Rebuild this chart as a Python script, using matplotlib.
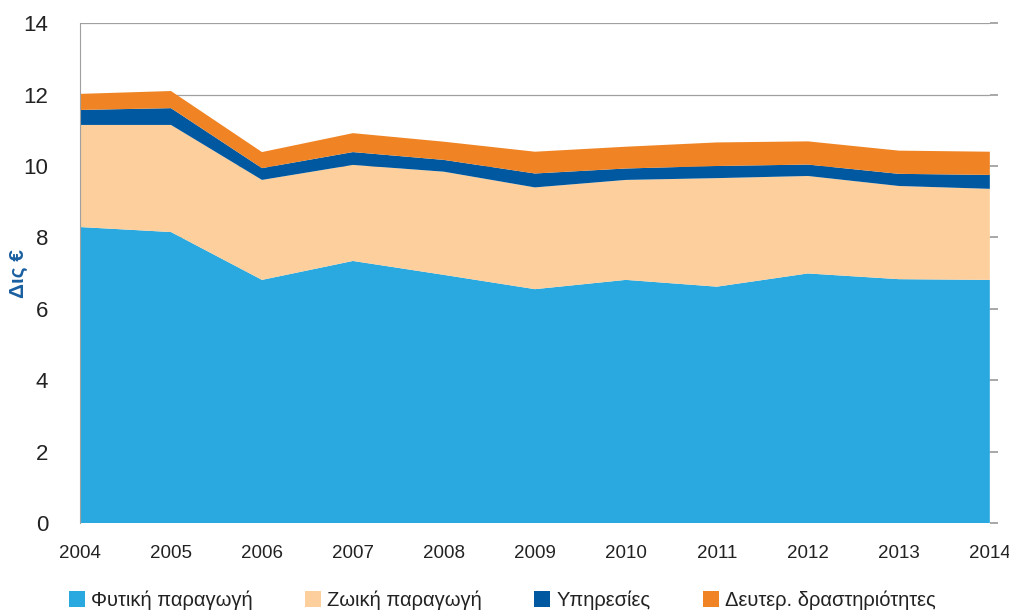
import numpy as np
import matplotlib.pyplot as plt
from matplotlib.patches import Patch

# Δεδομένα (δις €), διαβασμένα από το γράφημα
years = [2004, 2005, 2006, 2007, 2008, 2009, 2010, 2011, 2012, 2013, 2014]
fytiki = [8.29, 8.15, 6.81, 7.34, 6.95, 6.55, 6.81, 6.62, 6.99, 6.83, 6.81]
zoiki = [2.86, 3.00, 2.80, 2.69, 2.89, 2.85, 2.80, 3.04, 2.73, 2.61, 2.55]
ypiresies = [0.42, 0.47, 0.33, 0.36, 0.33, 0.39, 0.32, 0.34, 0.32, 0.34, 0.39]
deuter = [0.45, 0.48, 0.45, 0.53, 0.51, 0.61, 0.61, 0.66, 0.65, 0.65, 0.65]

labels = ["Φυτική παραγωγή", "Ζωική παραγωγή", "Υπηρεσίες", "Δευτερ. δραστηριότητες"]
colors = ["#29a9e0", "#fccf9c", "#0059a0", "#f08424"]
yticks = [0, 2, 4, 6, 8, 10, 12, 14]

plt.rcParams["font.family"] = ["Liberation Sans", "DejaVu Sans"]

fig = plt.figure(figsize=(10.09, 6.10), dpi=100)
ax = fig.add_axes([0.0793, 0.1426, 0.9017, 0.8194])

ax.stackplot(years, fytiki, zoiki, ypiresies, deuter, colors=colors,
             linewidth=0, zorder=2)

ax.set_xlim(years[0], years[-1])
ax.set_ylim(0, 14)
ax.set_yticks(yticks)
ax.set_xticks(years)
ax.grid(axis="y", color="#a0a0a0", linewidth=0.9, zorder=0)

for side in ["top", "right", "bottom"]:
    ax.spines[side].set_visible(False)
ax.spines["left"].set_color("#a0a0a0")
# μικρά σημάδια δεξιά, όπως στο πρωτότυπο
ax.tick_params(axis="y", left=False, right=True, length=6, width=1.2,
               color="#9a9a9a", labelsize=16, pad=17, labelcolor="#222222")
ax.tick_params(axis="x", length=0, labelsize=13.5, pad=16, colors="#222222")

ax.set_ylabel("Δις €", color="#1a5fa0", fontsize=15, fontweight="bold")
ax.yaxis.set_label_coords(-0.057, 0.5)

handles = [Patch(facecolor=c, edgecolor="none") for c in colors]
fig.legend(handles, labels, loc="lower left", ncol=4, frameon=False,
           bbox_to_anchor=(0.05, -0.03), fontsize=14.5, handlelength=0.8,
           handleheight=0.8, columnspacing=2.6, handletextpad=0.3,
           labelcolor="#222222")

fig.savefig("out.png", dpi=100)
